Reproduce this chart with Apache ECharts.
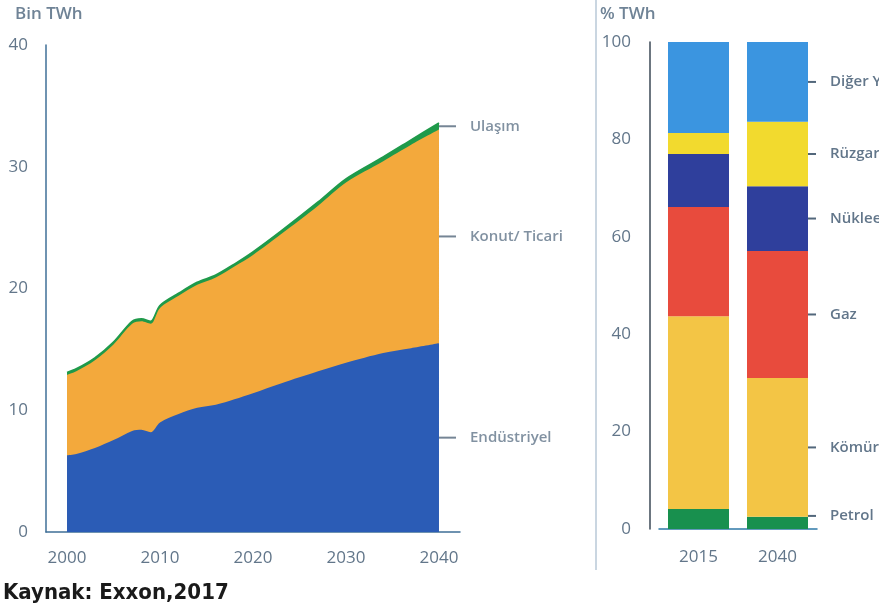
<!DOCTYPE html>
<html>
<head>
<meta charset="utf-8">
<script src="https://cdn.jsdelivr.net/npm/echarts@6/dist/echarts.min.js"></script>
<style>
  html, body { margin: 0; padding: 0; background: #fff; }
  #chart { width: 879px; height: 608px; }
</style>
</head>
<body>
<div id="chart"></div>
<script>
// sol grafik: sektörlere göre elektrik talebi (Bin TWh)
const years = [2000, 2001, 2003, 2005, 2007, 2008, 2009, 2010, 2012, 2014, 2016, 2018, 2020, 2023, 2027, 2030, 2034, 2037, 2040];
const industry = [6.3, 6.4, 6.9, 7.55, 8.3, 8.4, 8.2, 9.0, 9.7, 10.2, 10.45, 10.9, 11.4, 12.2, 13.2, 13.9, 14.7, 15.1, 15.5];
const residential = [6.6, 6.8, 7.2, 7.85, 8.8, 8.9, 8.9, 9.4, 9.7, 10.1, 10.45, 10.9, 11.35, 12.25, 13.6, 14.8, 15.75, 16.7, 17.55];
const transport = [0.2, 0.2, 0.2, 0.2, 0.2, 0.2, 0.2, 0.2, 0.2, 0.2, 0.2, 0.2, 0.25, 0.25, 0.3, 0.3, 0.35, 0.4, 0.55];
const sectorNames = ['Endüstriyel', 'Konut/ Ticari', 'Ulaşım'];
const yearTicks = [2000, 2010, 2020, 2030, 2040];

// sağ grafik: kaynaklara göre pay (% TWh)
const shareYears = ['2015', '2040'];
const petrol = [4.1, 2.5];
const coal = [39.6, 28.5];
const gas = [22.4, 26.1];
const nuclear = [10.9, 13.3];
const wind = [4.3, 13.2];
const otherRen = [18.7, 16.4];
const sourceNames = ['Petrol', 'Kömür', 'Gaz', 'Nükleer', 'Rüzgar', 'Diğer Yenilenebilir'];

const txt = '#62768a';
const font = 'Open Sans';

let chart = echarts.init(document.getElementById('chart'));

// kümülatif toplamlar (alanlar üst üste çiziliyor)
const cumInd = industry.slice();
const cumRes = industry.map(function (v, i) { return v + residential[i]; });
const cumAll = cumRes.map(function (v, i) { return v + transport[i]; });

function pairs(vals) {
    return years.map(function (y, i) { return [y, vals[i]]; });
}

function areaSeries(name, vals, color, line, z) {
    return {
        name: name,
        type: 'line',
        xAxisIndex: 0,
        yAxisIndex: 0,
        z: z,
        smooth: 0.3,
        showSymbol: false,
        data: pairs(vals),
        lineStyle: { width: line ? 1.8 : 0, color: color },
        areaStyle: { color: color, opacity: 1, origin: 'start' },
        itemStyle: { color: color }
    };
}

// etiket konumları: son yıldaki dilimlerin ortası
const last = years.length - 1;
const sectorMids = [cumInd[last] / 2, (cumInd[last] + cumRes[last]) / 2, (cumRes[last] + cumAll[last]) / 2];

const richLabel = {
    d: { width: 17, height: 2, backgroundColor: '#52677b', verticalAlign: 'middle' },
    t: { color: txt, fontFamily: font, fontWeight: 600, fontSize: 15, padding: [0, 0, 0, 14], verticalAlign: 'middle', lineHeight: 20 }
};
const richBar = {
    d: { width: 8, height: 2, backgroundColor: '#52677b', verticalAlign: 'middle' },
    t: { color: txt, fontFamily: font, fontWeight: 600, fontSize: 15, padding: [0, 0, 0, 14], verticalAlign: 'middle', lineHeight: 20 }
};

function barSeries(name, vals, color, offset) {
    return {
        name: name,
        type: 'bar',
        xAxisIndex: 1,
        yAxisIndex: 1,
        stack: 'share',
        barWidth: 61,
        itemStyle: { color: color },
        data: [vals[0], {
            value: vals[1],
            label: {
                show: true,
                position: 'right',
                distance: 0,
                offset: offset || [0, 0],
                formatter: '{d|}{t|' + name + '}',
                rich: richBar
            }
        }]
    };
}

option = {
    animation: false,
    textStyle: { fontFamily: font },
    grid: [
        { left: 46, right: 419, top: 45, bottom: 76 },
        { left: 659, right: 62, top: 42, bottom: 79 }
    ],
    xAxis: [{
        type: 'value',
        gridIndex: 0,
        min: 1997.74,
        max: 2042.26,
        axisLine: { lineStyle: { color: '#3f6f97', width: 1.5 } },
        axisTick: { show: false },
        splitLine: { show: false },
        axisLabel: {
            customValues: yearTicks,
            color: txt,
            fontSize: 17,
            margin: 18,
            formatter: function (v) { return String(v); }
        }
    }, {
        type: 'category',
        gridIndex: 1,
        data: shareYears,
        axisLine: { lineStyle: { color: '#2f79a8', width: 1.5 } },
        axisTick: { show: false },
        axisLabel: { color: txt, fontSize: 17, margin: 20 }
    }],
    yAxis: [{
        type: 'value',
        gridIndex: 0,
        min: 0,
        max: 40,
        interval: 10,
        name: 'Bin TWh',
        nameLocation: 'end',
        nameGap: 22,
        nameTextStyle: { color: '#6f8396', fontWeight: 600, fontSize: 17, align: 'left', padding: [0, 0, 0, -31] },
        axisLine: { show: true, lineStyle: { color: '#3f6f97', width: 1.5 } },
        axisTick: { show: false },
        splitLine: { show: false },
        axisLabel: { color: txt, fontSize: 17, margin: 18 }
    }, {
        type: 'value',
        gridIndex: 1,
        offset: 9,
        min: 0,
        max: 100,
        interval: 20,
        name: '% TWh',
        nameLocation: 'end',
        nameGap: 19,
        nameTextStyle: { color: '#6f8396', fontWeight: 600, fontSize: 17, align: 'left', padding: [0, 0, 0, -50] },
        axisLine: { show: true, lineStyle: { color: '#3b4856', width: 1.5 } },
        axisTick: { show: false },
        splitLine: { show: false },
        axisLabel: { color: txt, fontSize: 17, margin: 19 }
    }],
    series: [
        areaSeries(sectorNames[2], cumAll, '#1f9a4a', true, 2),
        areaSeries(sectorNames[1], cumRes, '#f3a93c', false, 3),
        areaSeries(sectorNames[0], cumInd, '#2b5cb6', false, 4),
        {
            type: 'scatter',
            xAxisIndex: 0,
            yAxisIndex: 0,
            symbolSize: 0,
            silent: true,
            z: 5,
            data: sectorNames.map(function (n, i) {
                return { name: n, value: [years[last], sectorMids[i]] };
            }),
            label: {
                show: true,
                position: 'right',
                distance: 0,
                formatter: function (p) { return '{d|}{t|' + p.name + '}'; },
                rich: richLabel
            }
        },
        barSeries(sourceNames[0], petrol, '#18904e', [0, -7]),
        barSeries(sourceNames[1], coal, '#f3c545'),
        barSeries(sourceNames[2], gas, '#e84b3d'),
        barSeries(sourceNames[3], nuclear, '#2f3f9c'),
        barSeries(sourceNames[4], wind, '#f2da2e'),
        barSeries(sourceNames[5], otherRen, '#3b95e0')
    ],
    graphic: [{
        type: 'line',
        shape: { x1: 596, y1: 0, x2: 596, y2: 570 },
        style: { stroke: '#b9c9d7', lineWidth: 1.5 }
    }, {
        type: 'text',
        left: 3,
        top: 582,
        style: {
            text: 'Kaynak: Exxon,2017',
            fill: '#1a1a1a',
            font: 'bold 22px "Liberation Sans Narrow", "DejaVu Sans Condensed", sans-serif'
        }
    }]
};

chart.setOption(option);
</script>
</body>
</html>
